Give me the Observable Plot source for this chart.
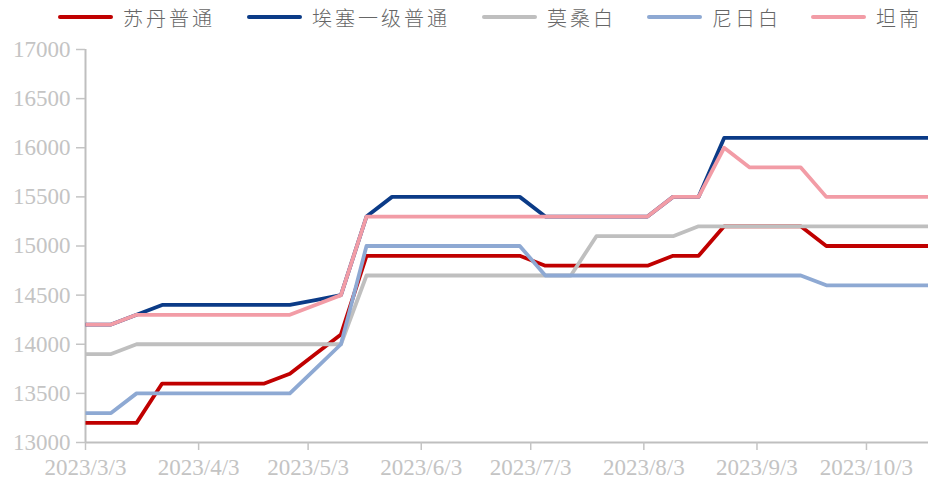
<!DOCTYPE html>
<html>
<head>
<meta charset="utf-8">
<script src="https://cdn.jsdelivr.net/npm/d3@7"></script>
<script src="https://cdn.jsdelivr.net/npm/@observablehq/plot@0.6"></script>
<style>
  html, body { margin: 0; padding: 0; background: #fff; }
  #wrap { width: 928px; height: 489px; position: relative; overflow: hidden; }
  #legend { height: 34px; position: relative; font-family: "Noto Sans CJK SC", sans-serif; font-weight: 300; font-size: 20px; color: #666; letter-spacing: 3px; }
  .item { position: absolute; top: 0; height: 34px; display: flex; align-items: center; }
  .sw { width: 55px; height: 4px; border-radius: 2px; margin-right: 10px; }
</style>
</head>
<body>
<div id="wrap">
  <div id="legend"></div>
  <div id="chart"></div>
</div>
<script>
// ---- data ----
const dates = ["2023-03-03","2023-03-10","2023-03-17","2023-03-24","2023-03-31","2023-04-07","2023-04-14","2023-04-21","2023-04-28","2023-05-05","2023-05-12","2023-05-19","2023-05-26","2023-06-02","2023-06-09","2023-06-16","2023-06-23","2023-06-30","2023-07-07","2023-07-14","2023-07-21","2023-07-28","2023-08-04","2023-08-11","2023-08-18","2023-08-25","2023-09-01","2023-09-08","2023-09-15","2023-09-22","2023-09-29","2023-10-06","2023-10-13","2023-10-20"];
const seriesNames = ["苏丹普通","埃塞一级普通","莫桑白","尼日白","坦南"];
const sudan    = [13200,13200,13200,13600,13600,13600,13600,13600,13700,13900,14100,14900,14900,14900,14900,14900,14900,14900,14800,14800,14800,14800,14800,14900,14900,15200,15200,15200,15200,15000,15000,15000,15000,15000];
const ethiopia = [14200,14200,14300,14400,14400,14400,14400,14400,14400,14450,14500,15300,15500,15500,15500,15500,15500,15500,15300,15300,15300,15300,15300,15500,15500,16100,16100,16100,16100,16100,16100,16100,16100,16100];
const mozambique=[13900,13900,14000,14000,14000,14000,14000,14000,14000,14000,14000,14700,14700,14700,14700,14700,14700,14700,14700,14700,15100,15100,15100,15100,15200,15200,15200,15200,15200,15200,15200,15200,15200,15200];
const niger    = [13300,13300,13500,13500,13500,13500,13500,13500,13500,13750,14000,15000,15000,15000,15000,15000,15000,15000,14700,14700,14700,14700,14700,14700,14700,14700,14700,14700,14700,14600,14600,14600,14600,14600];
const tanzania = [14200,14200,14300,14300,14300,14300,14300,14300,14300,14400,14500,15300,15300,15300,15300,15300,15300,15300,15300,15300,15300,15300,15300,15500,15500,16000,15800,15800,15800,15500,15500,15500,15500,15500];
const colors = ["#C00000","#0B3B87","#BFBFBF","#8EA9D3","#F29CA6"];
const yTicks = [13000,13500,14000,14500,15000,15500,16000,16500,17000];
const xTickLabels = ["2023/3/3","2023/4/3","2023/5/3","2023/6/3","2023/7/3","2023/8/3","2023/9/3","2023/10/3"];

// ---- build ----
const parse = s => { const [y,m,d] = s.split(/[-\/]/).map(Number); return new Date(Date.UTC(y, m-1, d)); };
const allValues = [sudan, ethiopia, mozambique, niger, tanzania];
const rows = [];
seriesNames.forEach((name, i) => {
  dates.forEach((d, j) => rows.push({series: name, date: parse(d), value: allValues[i][j]}));
});
const xTicks = xTickLabels.map(parse);
const fmt = d => `${d.getUTCFullYear()}/${d.getUTCMonth()+1}/${d.getUTCDate()}`;

// legend
const legend = document.getElementById("legend");
const lx = [58, 247, 482, 647, 811];
seriesNames.forEach((name, i) => {
  const it = document.createElement("div");
  it.className = "item";
  it.style.left = lx[i] + "px";
  it.innerHTML = `<span class="sw" style="background:${colors[i]}"></span><span>${name}</span>`;
  legend.appendChild(it);
});

const chart = Plot.plot({
  width: 928,
  height: 455,
  marginLeft: 85,
  marginRight: 0,
  marginTop: 15,
  marginBottom: 47,
  style: {color: "#C4C4C4", fontFamily: "'Liberation Serif', serif", fontSize: "23px", background: "#fff"},
  x: {type: "utc", domain: [parse(dates[0]), parse(dates[dates.length-1])]},
  y: {domain: [13000, 17000]},
  color: {domain: seriesNames, range: colors},
  marks: [
    Plot.ruleY([13000], {stroke: "#BFBFBF", strokeWidth: 2}),
    Plot.ruleX([parse(dates[0])], {stroke: "#BFBFBF", strokeWidth: 2}),
    Plot.axisY({ticks: yTicks, tickFormat: d => String(d), tickSize: 9, tickPadding: 6, fontSize: 23, label: null, strokeWidth: 1.5}),
    Plot.axisX({ticks: xTicks, tickFormat: fmt, tickSize: 8, tickPadding: 8, fontSize: 23, label: null, strokeWidth: 1.5}),
    Plot.line(rows, {x: "date", y: "value", z: "series", stroke: "series", strokeWidth: 3.8, strokeLinejoin: "round", strokeLinecap: "butt"})
  ]
});
document.getElementById("chart").appendChild(chart);
</script>
</body>
</html>
